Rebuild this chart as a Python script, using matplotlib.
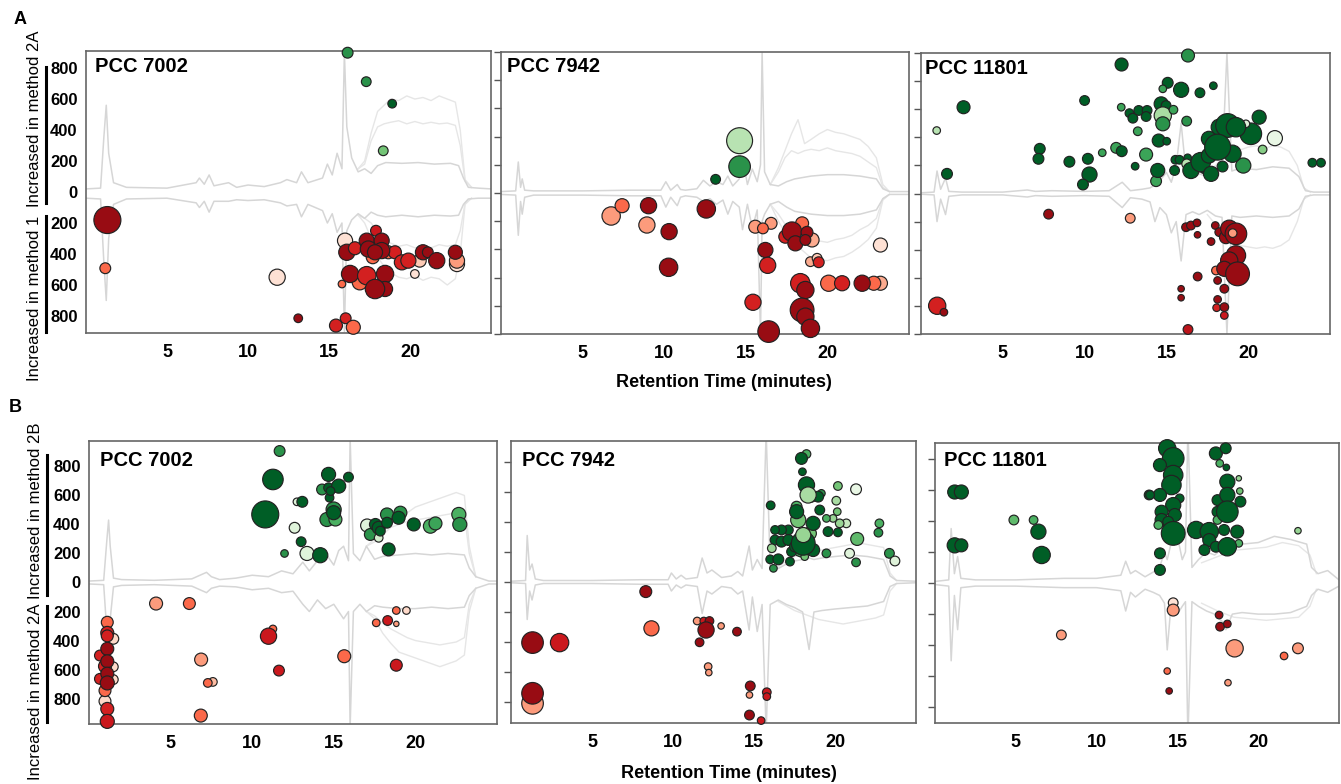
"""Mirror chromatograms with differential feature bubbles (methods comparison)."""

import matplotlib
matplotlib.use("Agg")
import matplotlib.pyplot as plt
from matplotlib.lines import Line2D
import numpy as np

plt.rcParams["font.family"] = ["Liberation Sans", "DejaVu Sans"]

W, H = 1341, 784
XTICKS = [5, 10, 15, 20]

# ---------------------------------------------------------------- A / PCC 7002
A1_t = [0, 0.9, 1.1, 1.25, 1.4, 1.7, 2.5, 5, 6.8, 7.0, 7.3, 7.6, 7.9, 8.8, 9.3, 10, 11, 12, 12.4, 13.0,
        13.3, 13.7, 14.6, 14.9, 15.2, 15.5, 15.8, 15.95, 16.1, 16.4, 16.8, 17.2, 17.6, 18.0, 18.5, 19.5,
        20.5, 21.5, 22.5, 23.0, 23.3, 23.6, 24.2, 25]
A1_up = [20, 25, 350, 560, 250, 60, 30, 25, 60, 90, 50, 110, 40, 60, 30, 45, 35, 60, 80, 60,
         130, 60, 90, 180, 110, 250, 150, 900, 420, 220, 130, 150, 120, 170, 190, 185,
         190, 180, 185, 170, 90, 30, 25, 20]
A1_dn = [-40, -45, -450, -700, -300, -80, -45, -40, -70, -100, -60, -130, -60, -60, -50, -55, -50, -70, -90, -80,
         -160, -80, -120, -200, -140, -260, -200, -900, -250, -180, -140, -170, -130, -150, -160, -150,
         -160, -150, -155, -150, -80, -45, -40, -40]
A1_pt = [16.8, 17.2, 17.6, 18.0, 18.4, 18.8, 19.3, 19.8, 20.3, 20.8, 21.3, 21.8, 22.3, 22.8, 23.1, 23.4, 23.8]
A1_pu = [[150, 200, 380, 520, 560, 600, 590, 620, 600, 610, 590, 620, 600, 580, 400, 80, 30],
         [150, 180, 330, 420, 440, 450, 460, 440, 455, 440, 450, 440, 445, 430, 300, 70, 30]]
A1_pd = [[-150, -200, -300, -420, -480, -520, -550, -560, -540, -570, -550, -560, -600, -560, -400, -80, -40],
         [-150, -170, -200, -260, -300, -330, -350, -340, -360, -350, -360, -340, -350, -340, -250, -70, -40]]
A1_time = [16.15, 17.3, 18.9, 18.35, 1.32, 1.19, 11.8, 13.1, 15.43, 16.03, 16.5, 15.8, 15.99, 18.66, 17.7,
           16.9, 20.3, 22.9, 22.9, 20.6, 19.07, 19.5, 19.9, 16.1, 16.6, 17.9, 17.33, 18.25, 17.43, 18.25,
           17.84, 20.8, 21.1, 21.65, 22.8, 16.3, 17.33, 18.46, 18.46, 17.84]
A1_value = [899, 712, 570, 266, -181, -492, -550, -815, -862, -815, -873, -594, -314, -389, -421,
            -583, -529, -465, -443, -443, -389, -454, -443, -389, -363, -250, -314, -314, -368, -378,
            -389, -389, -389, -443, -389, -529, -540, -529, -626, -626]
A1_size = [10, 9, 8, 9, 25, 10, 15, 8, 12, 10, 13, 7, 14, 12, 12,
           14, 8, 14, 14, 12, 12, 14, 14, 15, 12, 10, 14, 14, 15, 15,
           14, 14, 10, 15, 13, 16, 17, 16, 14, 18]
A1_shade = [0.72, 0.72, 0.92, 0.5, 0.9, 0.5, 0.12, 0.9, 0.72, 0.72, 0.5, 0.5, 0.12, 0.5, 0.5,
            0.5, 0.12, 0.12, 0.35, 0.2, 0.72, 0.72, 0.72, 0.9, 0.72, 0.75, 0.9, 0.9, 0.9, 0.9,
            0.9, 0.9, 0.9, 0.9, 0.9, 0.9, 0.72, 0.9, 0.9, 0.9]

# ---------------------------------------------------------------- A / PCC 7942
A2_t = [0, 0.9, 1.06, 1.2, 1.3, 1.45, 2, 5, 8, 9.8, 10.1, 10.4, 10.8, 11.0, 11.3, 12, 12.4, 12.8, 13.2, 13.6,
        13.9, 14.2, 14.6, 14.8, 15.1, 15.4, 15.7, 15.9, 16.0, 16.15, 16.5, 17, 17.5, 18, 19, 20, 21, 22, 23,
        23.4, 23.8, 25]
A2_up = [10, 15, 220, 40, 100, 20, 15, 15, 20, 20, 80, 20, 60, 25, 20, 30, 90, 50, 80, 60,
         120, 50, 100, 250, 60, 170, 80, 200, 1000, 150, 60, 50, 80, 100, 120, 130, 130, 120, 100,
         30, 10, 10]
A2_dn = [-10, -15, -300, -60, -150, -30, -15, -15, -20, -20, -100, -30, -90, -30, -20, -30, -60, -40, -80, -50,
         -150, -60, -100, -260, -80, -250, -120, -1000, -200, -150, -80, -60, -100, -130, -150, -160, -160,
         -150, -120, -40, -10, -10]
A2_pt = [16.5, 17, 17.4, 17.8, 18.2, 18.6, 19, 19.5, 20, 20.5, 21, 21.5, 22, 22.5, 23, 23.4, 23.8]
A2_pu = [[60, 180, 300, 420, 520, 350, 380, 420, 450, 430, 420, 400, 380, 330, 250, 60, 10],
         [60, 150, 250, 300, 280, 300, 310, 300, 320, 300, 290, 280, 260, 220, 180, 40, 10]]
A2_pd = [[-80, -200, -280, -330, -380, -420, -460, -470, -480, -460, -450, -420, -380, -330, -250, -50, -10],
         [-80, -150, -220, -260, -300, -320, -330, -340, -350, -330, -320, -300, -260, -230, -180, -40, -10]]
A2_time = [14.62, 14.62, 13.15, 6.75, 7.42, 9.04, 8.94, 10.3, 10.27, 12.58, 15.44, 15.58, 16.55, 16.05,
           16.2, 16.34, 19.06, 18.45, 17.42, 17.83, 18.04, 18.75, 18.65, 18.96, 19.37, 19.47, 18.34,
           18.65, 20.08, 20.9, 23.25, 22.84, 22.13, 23.25, 18.45, 18.65, 18.96, 16.4]
A2_value = [371, 187, 97, -163, -90, -90, -227, -274, -527, -113, -775, -239, -215, -251,
            -404, -513, -333, -215, -310, -274, -357, -279, -333, -487, -463, -491, -640,
            -688, -640, -640, -640, -640, -640, -369, -830, -877, -960, -983]
A2_size = [24, 20, 9, 17, 13, 15, 15, 15, 17, 17, 15, 12, 11, 10,
           14, 15, 13, 12, 12, 18, 14, 11, 10, 9, 9, 10, 18,
           16, 15, 14, 13, 13, 15, 13, 22, 16, 17, 20]
A2_shade = [0.3, 0.72, 0.92, 0.35, 0.5, 0.9, 0.35, 0.9, 0.9, 0.9, 0.72, 0.35, 0.35, 0.5,
            0.9, 0.72, 0.3, 0.5, 0.72, 0.9, 0.9, 0.9, 0.9, 0.3, 0.2, 0.72, 0.72,
            0.9, 0.5, 0.72, 0.3, 0.5, 0.9, 0.12, 0.9, 0.9, 0.9, 0.9]

# ---------------------------------------------------------------- A / PCC 11801
A3_t = [0, 0.8, 0.98, 1.2, 1.5, 1.7, 2.5, 5, 6.5, 7, 8, 10, 11.5, 12.3, 12.8, 13.5, 14.0, 14.3, 14.6, 15.0,
        15.3, 15.6, 15.9, 16.2, 16.6, 17.0, 17.5, 18.0, 18.4, 18.7, 19.0, 19.5, 20.5, 21.5, 22.5, 23.1,
        23.5, 24, 25]
A3_up = [5, 10, 160, 30, 110, 15, 10, 10, 25, 15, 20, 15, 20, 80, 20, 30, 40, 60, 90, 150,
         80, 200, 500, 150, 120, 140, 120, 150, 180, 1000, 160, 180, 170, 190, 180, 120, 20, 10, 10]
A3_dn = [-5, -10, -200, -40, -150, -20, -10, -10, -25, -15, -20, -15, -20, -100, -30, -40, -60, -200, -100, -150,
         -280, -200, -480, -150, -130, -150, -120, -160, -170, -1000, -160, -170, -160, -170, -160, -110,
         -20, -10, -10]
A3_pt = [17.5, 18, 18.5, 19, 19.5, 20, 20.5, 21, 21.5, 22, 22.5, 23, 23.4, 23.8]
A3_pu = [[130, 200, 260, 290, 310, 330, 340, 320, 340, 330, 300, 200, 40, 10]]
A3_pd = [[-150, -220, -300, -350, -370, -380, -390, -380, -390, -370, -330, -200, -40, -10]]
A3_time = [16.32, 12.26, 2.6, 0.96, 1.59, 7.26, 7.18, 9.07, 10.0, 10.2, 10.3, 9.9, 11.08, 11.93, 12.27,
           13.09, 13.76, 14.53, 15.02, 14.37, 14.47, 15.5, 15.08, 15.9, 17.05, 17.87, 23.92, 24.45, 21.63,
           20.88, 20.67, 19.7, 20.16, 14.78, 12.24, 12.74, 12.95, 13.31, 13.82, 13.76, 14.68, 14.98,
           14.78, 14.78, 15.43, 16.24, 13.25, 15.55, 15.8, 16.3, 16.24, 16.81, 17.32, 16.5, 17.1, 17.6,
           17.6, 18.43, 17.73, 19.04, 18.23, 19.86, 18.74, 19.25, 18.13,
           7.8, 12.79, 0.99, 1.4, 16.32, 16.2, 16.5, 16.87, 16.9, 17.73, 17.99, 18.23, 18.64, 18.84,
           19.25, 18.03, 19.25, 18.84, 18.54, 19.35, 18.13, 18.54, 16.91, 15.9, 15.9, 18.13, 18.07,
           18.54, 18.54, 19.05]
A3_value = [982, 918, 614, 448, 140, 318, 247, 226, 662, 247, 135, 64, 290, 325, 301,
            194, 277, 377, 372, 88, 164, 164, 788, 738, 717, 767, 219, 219, 394,
            313, 543, 199, 425, 745, 614, 572, 536, 591, 591, 548, 638, 626,
            555, 496, 596, 515, 443, 240, 240, 254, 211, 211, 176, 164, 223, 270,
            389, 192, 140, 283, 472, 496, 484, 472, 330,
            -147, -176, -799, -845, -968, -240, -228, -209, -294, -342, -228, -275, -311, -251,
            -287, -548, -441, -477, -536, -572, -619, -678, -591, -678, -742, -754, -813,
            -809, -868, -282]
A3_size = [12, 12, 12, 7, 10, 10, 10, 10, 9, 10, 14, 10, 7, 10, 10,
           7, 12, 12, 7, 10, 13, 9, 10, 14, 9, 7, 8, 8, 14,
           8, 13, 14, 20, 7, 7, 8, 9, 9, 9, 9, 13, 9,
           16, 13, 8, 9, 8, 8, 8, 7, 9, 10, 9, 15, 18, 14,
           14, 10, 14, 16, 15, 7, 22, 18, 24,
           9, 9, 16, 7, 9, 8, 8, 7, 6, 7, 7, 8, 12, 16,
           20, 8, 18, 16, 14, 22, 7, 8, 8, 6, 6, 7, 7,
           8, 7, 8]
A3_shade = [0.72, 0.92, 0.92, 0.3, 0.92, 0.92, 0.92, 0.92, 0.92, 0.92, 0.92, 0.92, 0.65, 0.65, 0.92,
            0.92, 0.65, 0.92, 0.92, 0.65, 0.92, 0.92, 0.92, 0.92, 0.92, 0.92, 0.92, 0.92, 0.1,
            0.45, 0.92, 0.72, 0.92, 0.65, 0.65, 0.92, 0.92, 0.92, 0.92, 0.92, 0.92, 0.92,
            0.35, 0.72, 0.65, 0.72, 0.65, 0.92, 0.92, 0.92, 0.3, 0.92, 0.92, 0.92, 0.92, 0.92,
            0.92, 0.92, 0.92, 0.92, 0.92, 0.15, 0.92, 0.92, 0.92,
            0.9, 0.35, 0.72, 0.9, 0.8, 0.9, 0.9, 0.9, 0.9, 0.9, 0.9, 0.9, 0.9, 0.9,
            0.9, 0.5, 0.9, 0.9, 0.9, 0.9, 0.9, 0.9, 0.9, 0.9, 0.9, 0.9, 0.72,
            0.9, 0.75, 0.35]

# ---------------------------------------------------------------- B / PCC 7002
B1_t = [0, 0.9, 1.1, 1.2, 1.3, 1.5, 2, 4, 6.3, 6.8, 7.2, 7.5, 8, 9, 10, 11, 11.8, 12.5, 13.1, 13.5,
        14.0, 14.5, 15.0, 15.3, 15.6, 15.9, 16.0, 16.2, 16.6, 17.0, 17.5, 18, 19, 20, 21, 22, 23, 23.3,
        23.7, 24.5, 25]
B1_up = [10, 15, 300, 430, 250, 30, 20, 15, 25, 50, 70, 40, 20, 30, 50, 40, 80, 60, 140, 80,
         150, 200, 120, 220, 250, 150, 1000, 200, 150, 250, 160, 180, 190, 200, 190, 200, 190, 100,
         40, 10, 10]
B1_dn = [-10, -15, -350, -500, -250, -30, -20, -15, -25, -50, -70, -40, -25, -30, -50, -40, -70, -60, -150, -200,
         -120, -180, -150, -200, -250, -200, -1000, -200, -150, -200, -160, -170, -180, -180, -170, -180,
         -170, -90, -40, -10, -10]
B1_pt = [17, 17.5, 18, 18.5, 19, 19.5, 20, 20.5, 21, 21.5, 22, 22.5, 23, 23.3, 23.7]
B1_pu = [[250, 300, 380, 420, 450, 480, 520, 540, 560, 580, 600, 620, 600, 250, 40],
         [250, 280, 330, 380, 400, 420, 430, 440, 450, 460, 470, 480, 470, 200, 40]]
B1_pd = [[-200, -250, -350, -420, -480, -500, -520, -540, -560, -580, -560, -540, -500, -200, -40],
         [-200, -230, -280, -320, -350, -380, -400, -410, -420, -430, -420, -410, -380, -150, -40]]
B1_time = [11.68, 11.27, 10.8, 12.74, 13.07, 12.6, 13.0, 11.98, 13.36, 14.17, 14.68, 15.9, 14.28, 14.68,
           15.3, 14.74, 14.8, 14.99, 14.58, 15.1, 14.99, 17.04, 17.24, 17.75, 17.55, 17.75, 17.85, 18.26,
           18.36, 18.26, 19.08, 18.97, 19.9, 20.92, 21.23, 22.66, 22.72,
           4.11, 6.15, 11.27, 11.0, 11.64, 6.87, 6.85, 7.59, 7.28, 15.64, 17.6, 18.3, 18.83, 19.45,
           18.83, 18.83, 1.49, 1.49, 1.49, 0.98, 1.12, 1.12, 1.12, 0.67, 0.98, 0.67, 0.98, 1.12, 1.12,
           1.12, 1.12, 1.12, 1.12]
B1_value = [906, 710, 469, 556, 556, 377, 281, 200, 200, 188, 745, 726, 641, 653,
            664, 584, 630, 503, 434, 434, 481, 393, 331, 308, 400, 377, 354, 469,
            228, 412, 481, 446, 400, 388, 407, 469, 400,
            -145, -145, -320, -370, -607, -531, -917, -685, -692, -508, -278, -262, -193, -193,
            -285, -570, -388, -581, -669, -818, -274, -347, -368, -503, -577, -664, -745, -457, -543,
            -628, -692, -871, -957]
B1_size = [10, 19, 25, 7, 10, 10, 9, 7, 13, 14, 13, 9, 10, 9,
           13, 8, 8, 14, 13, 12, 13, 12, 11, 8, 11, 12, 9, 12,
           12, 10, 12, 12, 12, 13, 12, 13, 13,
           12, 11, 7, 15, 10, 12, 12, 8, 8, 12, 7, 9, 7, 7,
           5, 11, 10, 9, 9, 11, 11, 12, 11, 10, 12, 10, 11, 12, 12,
           12, 13, 12, 13]
B1_shade = [0.72, 0.92, 0.92, 0.15, 0.92, 0.15, 0.92, 0.72, 0.15, 0.92, 0.92, 0.92, 0.72, 0.92,
            0.92, 0.92, 0.92, 0.72, 0.72, 0.6, 0.92, 0.15, 0.72, 0.2, 0.92, 0.92, 0.92, 0.72,
            0.92, 0.92, 0.72, 0.92, 0.92, 0.6, 0.65, 0.6, 0.72,
            0.35, 0.5, 0.5, 0.75, 0.75, 0.35, 0.5, 0.25, 0.5, 0.5, 0.5, 0.75, 0.5, 0.15,
            0.35, 0.75, 0.15, 0.15, 0.15, 0.15, 0.5, 0.72, 0.72, 0.72, 0.72, 0.72, 0.5, 0.9, 0.9,
            0.9, 0.9, 0.72, 0.75]

# ---------------------------------------------------------------- B / PCC 7942
B2_t = [0, 0.9, 1.0, 1.15, 1.3, 1.5, 2, 5, 8, 9.7, 9.9, 10.2, 10.5, 10.8, 11.5, 11.8, 12.1, 12.4, 13, 13.6,
        14.0, 14.3, 14.7, 14.9, 15.2, 15.5, 15.75, 16.0, 16.5, 17.0, 17.5, 18.0, 18.4, 18.7, 19.2, 20, 21,
        22, 23, 23.4, 23.8, 25]
B2_up = [5, 10, 310, 80, 120, 20, 10, 10, 15, 15, 60, 20, 45, 20, 30, 160, 60, 80, 30, 40,
         70, 40, 240, 80, 150, 90, 1000, 100, 90, 120, 140, 150, 160, 150, 160, 170, 180,
         170, 150, 40, 10, 5]
B2_dn = [-5, -10, -250, -60, -120, -20, -10, -10, -15, -15, -60, -20, -40, -20, -30, -210, -60, -80, -30, -40,
         -80, -60, -320, -100, -330, -150, -1000, -150, -120, -150, -170, -200, -450, -200, -190, -180,
         -170, -160, -130, -30, -10, -5]
B2_pt = [16.5, 17, 17.5, 18, 18.5, 19, 19.5, 20, 20.5, 21, 21.5, 22, 22.5, 23, 23.4, 23.8]
B2_pu = [[100, 140, 170, 190, 200, 210, 220, 230, 240, 250, 260, 250, 240, 230, 60, 10]]
B2_pd = [[-130, -160, -190, -210, -230, -250, -260, -270, -280, -270, -260, -250, -240, -220, -60, -10]]
B2_time = [8.32, 8.67, 1.33, 3.0, 1.33, 1.33, 11.49, 11.9, 12.25, 12.04, 11.64, 12.97, 13.95, 12.17,
           12.21, 14.77, 14.72, 15.79, 15.79, 14.72, 15.44,
           16.03, 18.24, 17.93, 17.99, 21.3, 20.18, 20.08, 20.14, 22.74, 22.68, 21.37, 20.9, 21.3,
           23.36, 23.7, 19.47, 20.7, 20.29, 19.88, 19.47, 20.18, 19.57, 19.06, 19.16, 18.55, 18.96,
           17.63, 17.73, 18.45, 17.93, 18.24, 18.34, 17.63, 18.65, 17.12, 16.7, 16.3, 16.3, 16.7,
           16.1, 16.0, 16.5, 17.22, 16.2, 17.32, 18.13, 18.65, 17.12, 17.53, 18.04, 18.04]
B2_value = [-64, -309, -404, -404, -809, -742, -260, -260, -260, -320, -402, -293, -331, -564,
            -604, -693, -753, -735, -764, -887, -924,
            511, 853, 824, 735, 618, 640, 542, 469, 391, 329, 287, 191, 131,
            191, 140, 191, 391, 391, 424, 424, 331, 336, 480, 591, 569, 569,
            502, 413, 324, 225, 647, 580, 469, 391, 347, 347, 347, 280, 269,
            225, 151, 151, 136, 91, 202, 169, 213, 280, 236, 258, 313]
B2_size = [11, 14, 20, 17, 20, 20, 7, 7, 8, 15, 8, 6, 8, 7,
           6, 9, 6, 8, 7, 9, 7,
           8, 8, 11, 7, 10, 8, 8, 7, 8, 8, 12, 9, 8,
           9, 9, 8, 8, 8, 7, 7, 8, 9, 9, 7, 10, 10,
           10, 14, 12, 16, 15, 15, 13, 13, 9, 9, 8, 9, 10,
           8, 8, 10, 8, 7, 9, 7, 12, 10, 10, 22, 14]
B2_shade = [0.9, 0.5, 0.9, 0.75, 0.35, 0.9, 0.35, 0.75, 0.9, 0.9, 0.9, 0.35, 0.9, 0.35,
            0.35, 0.9, 0.35, 0.75, 0.75, 0.9, 0.75,
            0.92, 0.6, 0.92, 0.92, 0.1, 0.5, 0.35, 0.5, 0.6, 0.72, 0.55, 0.15, 0.72,
            0.72, 0.15, 0.72, 0.25, 0.4, 0.4, 0.6, 0.92, 0.92, 0.92, 0.72, 0.72, 0.92,
            0.6, 0.5, 0.5, 0.6, 0.92, 0.35, 0.92, 0.92, 0.92, 0.92, 0.92, 0.92, 0.92,
            0.4, 0.92, 0.92, 0.92, 0.72, 0.92, 0.5, 0.92, 0.92, 0.92, 0.92, 0.4]

# ---------------------------------------------------------------- B / PCC 11801
B3_t = [0, 0.85, 1.0, 1.2, 1.4, 1.6, 2.5, 5, 8, 10, 11.5, 11.8, 12.1, 12.4, 13, 13.5, 13.9, 14.2, 14.37, 14.6,
        15.0, 15.3, 15.5, 15.65, 15.9, 16.3, 16.8, 17.3, 17.8, 18.0, 18.4, 19, 20, 21, 22, 23, 23.3, 23.7,
        24.3, 25]
B3_up = [10, 20, 350, 60, 170, 30, 20, 20, 30, 30, 50, 140, 60, 80, 40, 70, 100, 200, 150, 250,
         300, 150, 200, 1000, 100, 150, 200, 180, 220, 230, 240, 250, 260, 300, 280, 250, 100, 60,
         80, 20]
B3_dn = [-10, -20, -500, -80, -300, -30, -20, -20, -30, -30, -50, -180, -60, -90, -40, -60, -80, -130, -430, -150,
         -200, -150, -120, -1000, -120, -150, -180, -200, -250, -300, -200, -190, -200, -200, -190, -150,
         -80, -40, -60, -20]
B3_pt = [16.5, 17.5, 18.5, 19.5, 20.5, 21.5, 22.5, 23.2, 23.6]
B3_pu = [[130, 170, 210, 220, 230, 260, 240, 180, 60]]
B3_pd = [[-130, -180, -220, -230, -240, -230, -220, -150, -40]]
B3_time = [1.22, 1.63, 1.22, 1.63, 4.88, 6.1, 6.4, 6.6, 13.92, 13.92, 13.25, 22.46, 18.8,
           14.37, 14.74, 13.92, 14.74, 14.63, 13.92, 13.31, 15.14, 14.74, 14.02, 14.84, 14.02, 14.43,
           13.82, 14.74, 17.38, 17.99, 17.62, 18.03, 18.86, 18.09, 17.48, 18.9, 18.09, 17.48, 17.48,
           18.09, 16.16, 16.97, 16.97, 16.67, 17.38, 17.89, 18.7, 18.8, 17.89, 18.09,
           7.82, 14.74, 14.74, 17.58, 17.64, 18.09, 18.54, 22.46, 21.6, 14.37, 14.49, 18.13]
B3_value = [585, 585, 242, 242, 405, 405, 330, 180, 191, 84, 566, 336, 673,
            866, 801, 758, 694, 630, 566, 566, 544, 501, 458, 437, 405, 394,
            373, 319, 833, 866, 769, 743, 591, 651, 533, 523, 566, 458, 405,
            458, 341, 330, 276, 212, 233, 341, 330, 255, 212, 233,
            -334, -127, -174, -206, -281, -263, -420, -420, -469, -566, -694, -641]
B3_size = [13, 13, 14, 12, 9, 8, 14, 16, 10, 10, 9, 6, 5,
           16, 20, 12, 18, 18, 12, 8, 8, 14, 12, 12, 12, 10,
           8, 22, 12, 10, 7, 6, 6, 14, 10, 10, 14, 10, 8,
           20, 16, 17, 12, 10, 10, 10, 12, 7, 8, 17,
           9, 9, 11, 7, 8, 7, 16, 10, 7, 6, 6, 6]
B3_shade = [0.92, 0.92, 0.92, 0.92, 0.55, 0.6, 0.92, 0.92, 0.92, 0.92, 0.92, 0.4, 0.4,
            0.92, 0.92, 0.92, 0.92, 0.92, 0.92, 0.92, 0.92, 0.92, 0.92, 0.92, 0.92, 0.92,
            0.6, 0.92, 0.92, 0.92, 0.6, 0.92, 0.5, 0.92, 0.92, 0.92, 0.92, 0.92, 0.6,
            0.92, 0.92, 0.92, 0.92, 0.92, 0.92, 0.92, 0.92, 0.6, 0.92, 0.92,
            0.35, 0.12, 0.35, 0.9, 0.9, 0.9, 0.35, 0.35, 0.5, 0.5, 0.9, 0.35]


def box(left, top, right, bottom):
    return [left / W, 1 - bottom / H, (right - left) / W, (bottom - top) / H]


def draw_panel(ax, ylim, trace, plateau, points, first):
    t, up, dn = trace
    pt, pus, pds = plateau
    for line in pus + pds:
        ax.plot(pt, line, color="#e6e6e6", lw=1.0, zorder=1)
    ax.plot(t, up, color="#d6d6d6", lw=1.1, zorder=2)
    ax.plot(t, dn, color="#d6d6d6", lw=1.1, zorder=2)

    time, value, size, shade = points
    colors = [plt.cm.Greens(c) if v > 0 else plt.cm.Reds(c) for v, c in zip(value, shade)]
    ax.scatter(time, value, s=(np.array(size) * 1.08 * 0.72) ** 2, c=colors,
               edgecolors="#222222", linewidths=0.85, zorder=3, clip_on=False)

    ax.set_xlim(0, 25)
    ax.set_ylim(-ylim, ylim)
    ax.set_xticks(XTICKS)
    ax.set_xticklabels([str(x) for x in XTICKS], fontweight="bold", fontsize=13)
    ax.tick_params(axis="x", length=0, pad=8)
    if first:
        yt = [-800, -600, -400, -200, 0, 200, 400, 600, 800]
        ax.set_yticks(yt)
        ax.set_yticklabels([str(abs(y)) for y in yt], fontweight="bold", fontsize=12)
        ax.tick_params(axis="y", length=0, pad=6)
    else:
        yt = [y for y in range(-1000, 1001, 200) if abs(y) <= ylim]
        ax.set_yticks(yt)
        ax.set_yticklabels([])
        ax.tick_params(axis="y", length=5, width=1, color="#555555")
    for sp in ax.spines.values():
        sp.set_color("#666666")
        sp.set_linewidth(1.2)


fig = plt.figure(figsize=(W / 100, H / 100), dpi=100)

panels = [
    ((86, 51, 491, 333), 910, "PCC 7002", (95, 66),
     (A1_t, A1_up, A1_dn), (A1_pt, A1_pu, A1_pd), (A1_time, A1_value, A1_size, A1_shade), True),
    ((501, 52, 909, 334), 1000, "PCC 7942", (507, 67),
     (A2_t, A2_up, A2_dn), (A2_pt, A2_pu, A2_pd), (A2_time, A2_value, A2_size, A2_shade), False),
    ((921, 53, 1330, 334), 1000, "PCC 11801", (925, 68),
     (A3_t, A3_up, A3_dn), (A3_pt, A3_pu, A3_pd), (A3_time, A3_value, A3_size, A3_shade), False),
    ((89, 441, 497, 724), 975, "PCC 7002", (100, 460),
     (B1_t, B1_up, B1_dn), (B1_pt, B1_pu, B1_pd), (B1_time, B1_value, B1_size, B1_shade), True),
    ((511, 441, 916, 723), 940, "PCC 7942", (522, 461),
     (B2_t, B2_up, B2_dn), (B2_pt, B2_pu, B2_pd), (B2_time, B2_value, B2_size, B2_shade), False),
    ((935, 443, 1339, 723), 900, "PCC 11801", (944, 460),
     (B3_t, B3_up, B3_dn), (B3_pt, B3_pu, B3_pd), (B3_time, B3_value, B3_size, B3_shade), False),
]

for rect, ylim, title, tpos, trace, plateau, points, first in panels:
    ax = fig.add_axes(box(*rect))
    draw_panel(ax, ylim, trace, plateau, points, first)
    fig.text(tpos[0] / W, 1 - tpos[1] / H, title, fontsize=14.5, fontweight="bold",
             ha="left", va="center", zorder=5)

# panel letters and shared x labels
fig.text(20 / W, 1 - 20 / H, "A", fontsize=13, fontweight="bold", ha="center", va="center")
fig.text(15 / W, 1 - 407 / H, "B", fontsize=13, fontweight="bold", ha="center", va="center")
fig.text(724 / W, 1 - 383 / H, "Retention Time (minutes)", fontsize=13, fontweight="bold",
         ha="center", va="center")
fig.text(729 / W, 1 - 774 / H, "Retention Time (minutes)", fontsize=13, fontweight="bold",
         ha="center", va="center")

# y labels with bracket bars
ylabels = [
    (35, 119, "Increased in method 2A", 46, 67, 203),
    (35, 298, "Increased in method 1", 46, 216, 332),
    (36, 511, "Increased in method 2B", 47, 455, 595),
    (36, 692, "Increased in method 2A", 47, 606, 722),
]
for x, y, label, bx, y0, y1 in ylabels:
    fig.text(x / W, 1 - y / H, label, fontsize=12, rotation=90, ha="center", va="center")
    fig.add_artist(Line2D([bx / W, bx / W], [1 - y0 / H, 1 - y1 / H], color="black", lw=2.2))

fig.savefig("out.png", dpi=100)
